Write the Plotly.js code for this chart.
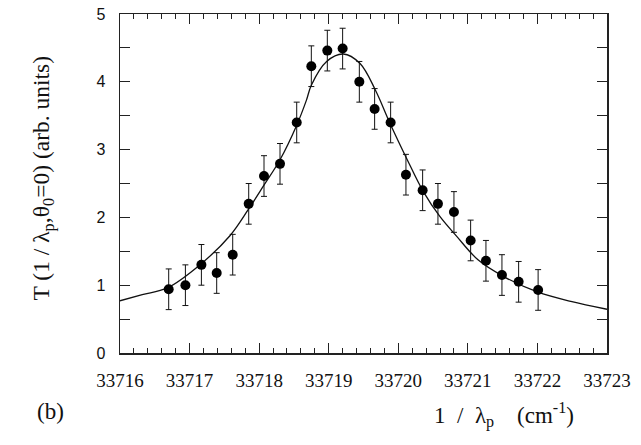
<!DOCTYPE html>
<html>
<head>
<meta charset="utf-8">
<script src="https://cdn.plot.ly/plotly-3.0.1.min.js"></script>
<style>html,body{margin:0;padding:0;background:#fff;}#chart{width:641px;height:445px;}</style>
</head>
<body>
<div id="chart"></div>
<script>
// Measured points (1/lambda_p in cm^-1, T in arb. units)
const waveNumbers = [33716.70, 33716.94, 33717.17, 33717.39, 33717.62, 33717.85, 33718.07, 33718.30, 33718.54, 33718.75, 33718.98, 33719.20, 33719.44, 33719.66, 33719.89, 33720.11, 33720.35, 33720.57, 33720.80, 33721.04, 33721.26, 33721.49, 33721.73, 33722.01];
const transmission = [0.94, 1.00, 1.30, 1.18, 1.45, 2.20, 2.61, 2.79, 3.40, 4.23, 4.46, 4.49, 4.00, 3.60, 3.40, 2.63, 2.40, 2.20, 2.08, 1.66, 1.36, 1.15, 1.05, 0.93];
const transmissionErr = [0.30, 0.30, 0.30, 0.30, 0.30, 0.30, 0.30, 0.30, 0.30, 0.30, 0.30, 0.30, 0.30, 0.30, 0.30, 0.30, 0.30, 0.30, 0.30, 0.30, 0.30, 0.30, 0.30, 0.30];

// Fitted curve
const fitX = [33716.00, 33716.32, 33716.68, 33717.16, 33717.58, 33717.84, 33718.06, 33718.30, 33718.54, 33718.68, 33718.75, 33718.97, 33719.21, 33719.45, 33719.67, 33719.88, 33720.12, 33720.36, 33720.60, 33720.84, 33721.15, 33721.51, 33722.00, 33722.48, 33723.00];
const fitY = [0.77, 0.86, 0.96, 1.31, 1.73, 2.11, 2.46, 2.85, 3.36, 3.73, 3.95, 4.30, 4.41, 4.27, 3.88, 3.39, 2.87, 2.38, 2.01, 1.72, 1.37, 1.13, 0.90, 0.76, 0.645];

// Tick labels
const xTickVals = [33716, 33717, 33718, 33719, 33720, 33721, 33722, 33723];
const xTickText = ['33716', '33717', '33718', '33719', '33720', '33721', '33722', '33723'];
const yTickVals = [0, 1, 2, 3, 4, 5];
const yTickText = ['0', '1', '2', '3', '4', '5'];

const traces = [
  {
    x: fitX, y: fitY, type: 'scatter', mode: 'lines',
    line: {color: '#111', width: 1.3, shape: 'spline', smoothing: 1.0},
    hoverinfo: 'skip', showlegend: false
  },
  {
    x: waveNumbers, y: transmission, type: 'scatter', mode: 'markers',
    marker: {color: '#000', size: 10},
    error_y: {type: 'data', array: transmissionErr, visible: true, color: '#111', thickness: 1, width: 3},
    showlegend: false
  }
];

const axisCommon = {
  showline: true, linecolor: '#222', linewidth: 1.5, mirror: 'ticks',
  ticks: 'inside', tickcolor: '#222', tickwidth: 1, showgrid: false, zeroline: false
};

const layout = {
  width: 641, height: 445,
  margin: {l: 120, r: 34, t: 14, b: 92},
  paper_bgcolor: '#fff', plot_bgcolor: '#fff',
  showlegend: false,
  xaxis: Object.assign({}, axisCommon, {
    range: [33716, 33723], tickmode: 'array', tickvals: xTickVals, ticktext: xTickText,
    ticklen: 10, ticklabelstandoff: 10,
    tickfont: {family: 'Liberation Serif, serif', size: 19, color: '#111'},
    minor: {dtick: 0.2, tick0: 33716, ticks: 'inside', ticklen: 5, tickcolor: '#222', tickwidth: 1, showgrid: false}
  }),
  yaxis: Object.assign({}, axisCommon, {
    range: [0, 5], tickmode: 'array', tickvals: yTickVals, ticktext: yTickText,
    ticklen: 10, ticklabelstandoff: 10,
    tickfont: {family: 'Liberation Sans, Arial, sans-serif', size: 16, color: '#111'},
    minor: {dtick: 0.5, tick0: 0, ticks: 'inside', ticklen: 10, tickcolor: '#222', tickwidth: 1, showgrid: false}
  }),
  annotations: [
    {
      xref: 'paper', yref: 'paper', x: -0.158, y: 0.515, xanchor: 'center', yanchor: 'middle',
      textangle: -90, showarrow: false,
      text: 'T (1 / λ<sub>p</sub>,θ<sub>0</sub>=0) (arb. units)',
      font: {family: 'Liberation Serif, serif', size: 23.5, color: '#111'}
    },
    {
      xref: 'paper', yref: 'paper', x: 0.64, y: -0.13, xanchor: 'left', yanchor: 'top',
      showarrow: false,
      text: '1&nbsp;&nbsp;/&nbsp;&nbsp;λ<sub>p</sub>&nbsp;&nbsp;&nbsp;&nbsp;(cm<sup>-1</sup>)',
      font: {family: 'Liberation Serif, serif', size: 23, color: '#111'}
    },
    {
      xref: 'paper', yref: 'paper', x: -0.175, y: -0.13, xanchor: 'left', yanchor: 'top',
      showarrow: false,
      text: '(b)',
      font: {family: 'Liberation Serif, serif', size: 23, color: '#111'}
    }
  ]
};

Plotly.newPlot('chart', traces, layout, {displayModeBar: false, staticPlot: true});
</script>
</body>
</html>
